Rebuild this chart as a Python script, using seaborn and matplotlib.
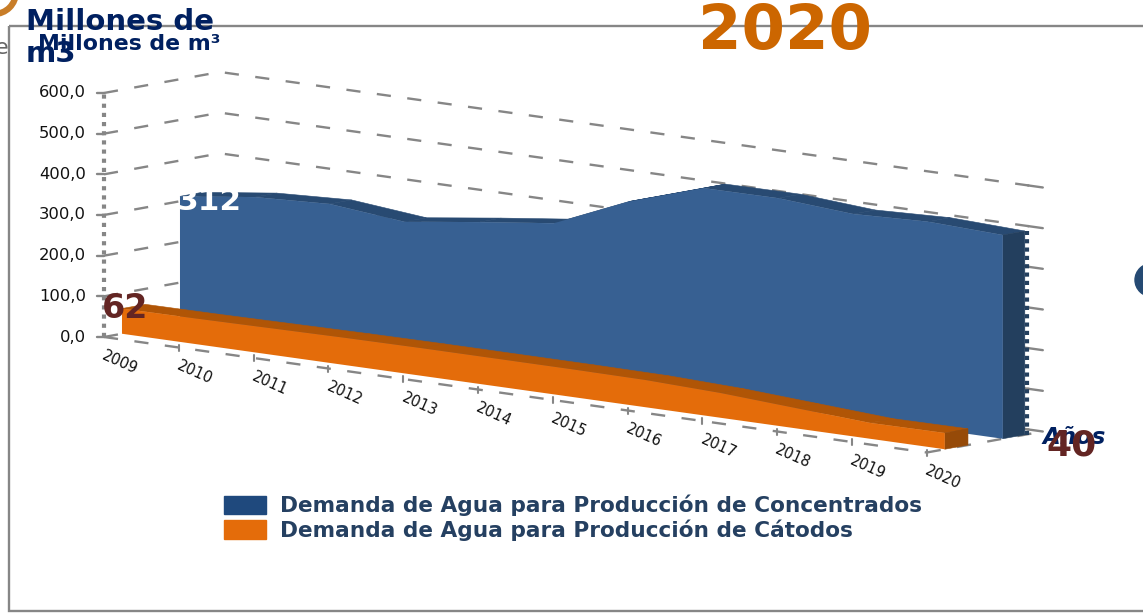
import numpy as np
import pandas as pd
import matplotlib
matplotlib.use("Agg")
import matplotlib.pyplot as plt
from matplotlib.patches import Arc, Ellipse, Patch, Rectangle
from matplotlib.transforms import Affine2D
import seaborn as sns

years = [2009, 2010, 2011, 2012, 2013, 2014, 2015, 2016, 2017, 2018, 2019, 2020]
concentrados = [312, 336, 345, 327, 352, 375, 454, 513, 514, 501, 508, 501]
catodos = [62, 63, 65, 67, 68, 68, 68, 67, 61, 50, 39, 40]
value_ticks = [0, 100, 200, 300, 400, 500, 600]
value_tick_labels = ["0,0", "100,0", "200,0", "300,0", "400,0", "500,0", "600,0"]

GRAY = "#868686"
NAVY = "#002060"
LEGEND_TEXT = "#254061"
WINE = "#632523"

sns.set_theme(style="white", rc={"font.family": "DejaVu Sans"})

fig = plt.figure(figsize=(11.43, 6.13), dpi=100)
ax = fig.add_axes([0, 0, 1, 1])


def plane(depth):
    """Oblique projection of (year index, value) at a given depth into the canvas."""
    return Affine2D.from_values(74.8, 10.5, 0, -0.4067, 104 + 116 * depth, 337 - 21 * depth)


def project(index, value, depth):
    pts = np.column_stack([np.asarray(index, float), np.asarray(value, float)])
    return plane(depth).transform(pts)


def line(points, **kw):
    frame = pd.DataFrame(points, columns=["px", "py"])
    sns.lineplot(data=frame, x="px", y="py", sort=False, estimator=None, ax=ax, **kw)


idx = np.arange(len(years))
dash = dict(color=GRAY, lw=1.7, linestyle=(0, (6, 7)))

# walls and floor guides
for v in value_ticks:
    corner = np.vstack([project([0], [v], 0), project([0, 11], [v, v], 1)])
    line(corner, **dash)
    line(project([10.8, 11], [v, v], 1), color=GRAY, lw=1.7)
    line(np.vstack([project([0], [v], 0) - [7, 0], project([0], [v], 0)]), color=GRAY, lw=1.7)
line(project([0, 0], [0, 600], 0), color=GRAY, lw=3, linestyle=(0, (1, 1.2)))
line(project([0, 11], [0, 0], 0), **dash)
line(np.vstack([project([11], [0], 0), project([11], [0], 1)]), **dash)
for i in idx[1:]:
    tick = project([i], [0], 0)
    line(np.vstack([tick - [0, 3], tick + [0, 3]]), color=GRAY, lw=1.5)


def ribbon(values, d0, d1, front, top, side, level):
    values = np.asarray(values, float)
    # top face, then the closing side, then the front face over them
    for a in range(len(values) - 1):
        seg = project(idx[a:a + 2], values[a:a + 2], d0)
        back = project(idx[a:a + 2], values[a:a + 2], d1)
        ax.fill(*np.vstack([seg, back[::-1]]).T, color=top, lw=0.4, zorder=level)
    end = np.vstack([project([11, 11], [0, values[-1]], d0), project([11, 11], [values[-1], 0], d1)])
    ax.fill(*end.T, color=side, lw=0.4, zorder=level)
    outline = np.vstack([project(idx, values, d0), project(idx[::-1], np.zeros(len(idx)), d0)])
    ax.fill(*outline.T, color=front, lw=0, zorder=level + 1)


ribbon(concentrados, 0.655, 0.845, "#376092", "#284A72", "#233F5E", 3)
# serrated back edge of the blue ribbon
edge = project([11, 11], [0, concentrados[-1]], 0.845) + [2, 0]
line(edge, color="#233F5E", lw=3, linestyle=(0, (1, 1)), zorder=3)
ribbon(catodos, 0.155, 0.355, "#E46C0A", "#B05506", "#964A08", 5)

# value and category labels
for v, lab in zip(value_ticks, value_tick_labels):
    x0, y0 = project([0], [v], 0)[0]
    ax.text(86, y0, lab, ha="right", va="center", fontsize=11.8, color="#111111")
for i, y in zip(idx, years):
    x0, y0 = project([i], [0], 0)[0]
    ax.text(x0 + 16, y0 + 25, str(y), ha="center", va="center", rotation=-24,
            rotation_mode="anchor", fontsize=10.5, color="#111111")

x0, y0 = project([0], [concentrados[0]], 0.655)[0]
ax.text(209, y0 + 5, str(concentrados[0]), ha="center", va="center", fontsize=22.5,
        fontweight="bold", color="white", zorder=8)
ax.text(125, 309, str(catodos[0]), ha="center", va="center", fontsize=24,
        fontweight="bold", color=WINE, zorder=8)
ax.text(1074, 438, "Años", ha="center", va="center", fontsize=16.5, fontweight="bold",
        style="italic", color=NAVY, zorder=8)
ax.text(1072, 446, str(catodos[-1]), ha="center", va="center", fontsize=26,
        fontweight="bold", color=WINE, zorder=9)

# headings
ax.text(785, 32, "2020", ha="center", va="center", fontsize=45, fontweight="bold", color="#CC6600")
ax.text(26, 38, "Millones de\nm3", ha="left", va="center", fontsize=21, fontweight="bold",
        color=NAVY, linespacing=1.15, zorder=8)
ax.text(38, 44, "Millones de m³", ha="left", va="center", fontsize=15.8, fontweight="bold",
        color=NAVY, zorder=8)

# legend
handles = [Patch(color="#1F497D", label="Demanda de Agua para Producción de Concentrados"),
           Patch(color="#E46C0A", label="Demanda de Agua para Producción de Cátodos")]
leg = ax.legend(handles=handles, loc="upper left", bbox_to_anchor=(224, 495),
                bbox_transform=ax.transData, frameon=False, borderpad=0, borderaxespad=0,
                prop={"size": 15.6, "weight": "bold"}, labelcolor=LEGEND_TEXT,
                handlelength=1.94, handleheight=0.93, handletextpad=0.65, labelspacing=0.14)

# slide frame and clipped slide decorations
ax.add_patch(Rectangle((9, 26), 1300, 585, fill=False, ec=GRAY, lw=1.7, zorder=1))
ax.add_patch(Arc((-6, -8), 44, 44, theta1=0, theta2=90, color="#C87D28", lw=4.5))
ax.add_patch(Ellipse((1153, 280), 36, 34, color="#254A73"))
ax.text(-5, 48, "e", ha="left", va="center", fontsize=16, color="#666666", zorder=0)

ax.set_xlim(0, 1143)
ax.set_ylim(613, 0)
ax.axis("off")
leg.set_zorder(8)

fig.savefig("out.png", dpi=100)
